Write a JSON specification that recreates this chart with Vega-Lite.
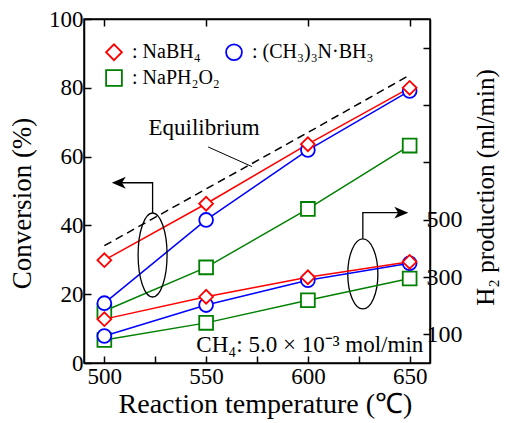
{
  "$schema": "https://vega.github.io/schema/vega-lite/v6.json",
  "autosize": "none",
  "width": 346,
  "height": 344,
  "padding": {"left": 84, "top": 19, "right": 76, "bottom": 60},
  "background": "white",
  "config": {
    "font": "Liberation Serif",
    "view": {"stroke": "black", "strokeWidth": 1.5},
    "axis": {"grid": false, "domainColor": "black", "domainWidth": 1.5, "tickColor": "black", "tickWidth": 1.5, "tickSize": -7, "labelColor": "black", "labelFont": "Liberation Serif", "labelFontSize": 23, "labelPadding": 6, "labelOverlap": false, "titleColor": "black", "titleFont": "Liberation Serif", "titleFontSize": 27, "titleFontWeight": "normal"},
    "legend": {"orient": "none", "legendX": 20, "legendY": 23, "direction": "horizontal", "columns": 2, "labelFont": "Liberation Serif", "labelFontSize": 20, "labelColor": "black", "symbolStrokeWidth": 1.8, "symbolSize": 250, "columnPadding": 2, "rowPadding": 2, "padding": 0, "labelOffset": 8}
  },
  "datasets": {
    "conv": [
      {"compound": "NaPH₂O₂", "t": 500, "v": 15.1}, {"compound": "NaPH₂O₂", "t": 550, "v": 27.8}, {"compound": "NaPH₂O₂", "t": 600, "v": 44.8}, {"compound": "NaPH₂O₂", "t": 650, "v": 63.2},
      {"compound": "(CH₃)₃N·BH₃", "t": 500, "v": 17.4}, {"compound": "(CH₃)₃N·BH₃", "t": 550, "v": 41.6}, {"compound": "(CH₃)₃N·BH₃", "t": 600, "v": 61.9}, {"compound": "(CH₃)₃N·BH₃", "t": 650, "v": 79.1},
      {"compound": "NaBH₄", "t": 500, "v": 29.9}, {"compound": "NaBH₄", "t": 550, "v": 46.3}, {"compound": "NaBH₄", "t": 600, "v": 63.6}, {"compound": "NaBH₄", "t": 650, "v": 80.0}
    ],
    "h2": [
      {"compound": "NaPH₂O₂", "t": 500, "h": 80}, {"compound": "NaPH₂O₂", "t": 550, "h": 140}, {"compound": "NaPH₂O₂", "t": 600, "h": 219}, {"compound": "NaPH₂O₂", "t": 650, "h": 295},
      {"compound": "(CH₃)₃N·BH₃", "t": 500, "h": 94}, {"compound": "(CH₃)₃N·BH₃", "t": 550, "h": 202}, {"compound": "(CH₃)₃N·BH₃", "t": 600, "h": 289}, {"compound": "(CH₃)₃N·BH₃", "t": 650, "h": 348},
      {"compound": "NaBH₄", "t": 500, "h": 153}, {"compound": "NaBH₄", "t": 550, "h": 231}, {"compound": "NaBH₄", "t": 600, "h": 299}, {"compound": "NaBH₄", "t": 650, "h": 353}
    ],
    "eq": [{"t": 500, "v": 34.1}, {"t": 550, "v": 50.6}, {"t": 600, "v": 67.0}, {"t": 650, "v": 83.7}],
    "arrows": [
      {"id": "L", "ord": 1, "t": 523.7, "v": 43.6}, {"id": "L", "ord": 2, "t": 523.7, "v": 52.4}, {"id": "L", "ord": 3, "t": 507.1, "v": 52.4},
      {"id": "R", "ord": 1, "t": 627.0, "v": 36.1}, {"id": "R", "ord": 2, "t": 627.0, "v": 43.7}, {"id": "R", "ord": 3, "t": 645.9, "v": 43.7}
    ],
    "heads": [{"id": "L", "t": 507.1, "v": 52.4}, {"id": "R", "t": 645.9, "v": 43.7}],
    "ellipses": [{"id": "L", "t": 523.7, "v": 31.4}, {"id": "R", "t": 627.0, "v": 25.9}],
    "pointer": [{"t": 551, "v": 62.8, "t2": 572.5, "v2": 57.1}],
    "labels": [{"id": "eq", "t": 549, "v": 68.3, "text": "Equilibrium"}, {"id": "ch4", "t": 656.7, "v": 3.3, "text": "CH₄: 5.0 × 10⁻³ mol/min"}]
  },
  "layer": [
    {
      "layer": [
        {
          "data": {"name": "eq"},
          "mark": {"type": "line", "stroke": "black", "strokeWidth": 1.5, "strokeDash": [8, 5]},
          "encoding": {
            "x": {"field": "t", "type": "quantitative", "scale": {"domain": [490, 660], "nice": false, "zero": false},
                  "axis": {"orient": "bottom", "title": "Reaction temperature (℃)", "values": [500, 525, 550, 575, 600, 625, 650], "labelExpr": "datum.value % 50 == 0 ? datum.label : ''", "titlePadding": 2, "titleFontSize": 28, "titleX": 181, "labelPadding": 9, "labelFont": "Liberation Serif", "titleFont": "Liberation Serif"}},
            "y": {"field": "v", "type": "quantitative", "scale": {"domain": [0, 100], "nice": false},
                  "axis": {"orient": "left", "title": "Conversion (%)", "values": [0, 10, 20, 30, 40, 50, 60, 70, 80, 90, 100], "labelExpr": "datum.value % 20 == 0 ? datum.label : ''", "titlePadding": 12, "titleY": 184, "labelPadding": 8, "labelFont": "Liberation Serif", "titleFont": "Liberation Serif"}}
          }
        },
        {
          "data": {"name": "conv"},
          "mark": {"type": "line", "strokeWidth": 1.5},
          "encoding": {
            "x": {"field": "t", "type": "quantitative"},
            "y": {"field": "v", "type": "quantitative"},
            "color": {"field": "compound", "type": "nominal", "scale": {"domain": ["NaBH₄", "(CH₃)₃N·BH₃", "NaPH₂O₂"], "range": ["#ff0000", "#0000ff", "#008000"]}, "legend": {"title": null, "labelExpr": "': ' + datum.label"}}
          }
        },
        {
          "data": {"name": "conv"},
          "mark": {"type": "point", "filled": false, "fill": "white", "strokeWidth": 1.8, "size": 190, "opacity": 1},
          "encoding": {
            "x": {"field": "t", "type": "quantitative"},
            "y": {"field": "v", "type": "quantitative"},
            "color": {"field": "compound", "type": "nominal", "legend": {"title": null, "labelExpr": "': ' + datum.label"}},
            "shape": {"field": "compound", "type": "nominal", "scale": {"domain": ["NaBH₄", "(CH₃)₃N·BH₃", "NaPH₂O₂"], "range": ["diamond", "circle", "square"]}, "legend": {"title": null, "labelExpr": "': ' + datum.label"}}
          }
        },
        {
          "data": {"name": "arrows"},
          "mark": {"type": "line", "stroke": "black", "strokeWidth": 1.3},
          "encoding": {
            "x": {"field": "t", "type": "quantitative"},
            "y": {"field": "v", "type": "quantitative"},
            "detail": {"field": "id"},
            "order": {"field": "ord", "type": "quantitative"}
          }
        },
        {
          "data": {"name": "heads"},
          "transform": [{"filter": "datum.id == 'L'"}],
          "mark": {"type": "point", "shape": "M-1,0L1,-0.85L0.45,0L1,0.85Z", "filled": true, "color": "black", "size": 196, "opacity": 1},
          "encoding": {"x": {"field": "t", "type": "quantitative"}, "y": {"field": "v", "type": "quantitative"}}
        },
        {
          "data": {"name": "heads"},
          "transform": [{"filter": "datum.id == 'R'"}],
          "mark": {"type": "point", "shape": "M1,0L-1,-0.85L-0.45,0L-1,0.85Z", "filled": true, "color": "black", "size": 196, "opacity": 1},
          "encoding": {"x": {"field": "t", "type": "quantitative"}, "y": {"field": "v", "type": "quantitative"}}
        },
        {
          "data": {"name": "ellipses"},
          "transform": [{"filter": "datum.id == 'L'"}],
          "mark": {"type": "point", "shape": "M0,-1A0.345,1,0,1,1,0,1A0.345,1,0,1,1,0,-1Z", "filled": false, "stroke": "black", "strokeWidth": 1.3, "size": 7056, "opacity": 1},
          "encoding": {"x": {"field": "t", "type": "quantitative"}, "y": {"field": "v", "type": "quantitative"}}
        },
        {
          "data": {"name": "ellipses"},
          "transform": [{"filter": "datum.id == 'R'"}],
          "mark": {"type": "point", "shape": "M0,-1A0.43,1,0,1,1,0,1A0.43,1,0,1,1,0,-1Z", "filled": false, "stroke": "black", "strokeWidth": 1.3, "size": 4900, "opacity": 1},
          "encoding": {"x": {"field": "t", "type": "quantitative"}, "y": {"field": "v", "type": "quantitative"}}
        },
        {
          "data": {"name": "pointer"},
          "mark": {"type": "rule", "stroke": "black", "strokeWidth": 1},
          "encoding": {"x": {"field": "t", "type": "quantitative"}, "y": {"field": "v", "type": "quantitative"}, "x2": {"field": "t2"}, "y2": {"field": "v2"}}
        },
        {
          "data": {"name": "labels"},
          "transform": [{"filter": "datum.id == 'eq'"}],
          "mark": {"type": "text", "font": "Liberation Serif", "fontSize": 23, "align": "center", "baseline": "middle", "color": "black"},
          "encoding": {"x": {"field": "t", "type": "quantitative"}, "y": {"field": "v", "type": "quantitative"}, "text": {"field": "text"}}
        },
        {
          "data": {"name": "labels"},
          "transform": [{"filter": "datum.id == 'ch4'"}],
          "mark": {"type": "text", "font": "Liberation Serif", "fontSize": 23, "align": "right", "baseline": "alphabetic", "color": "black"},
          "encoding": {"x": {"field": "t", "type": "quantitative"}, "y": {"field": "v", "type": "quantitative"}, "text": {"field": "text"}}
        }
      ]
    },
    {
      "layer": [
        {
          "data": {"name": "h2"},
          "mark": {"type": "line", "strokeWidth": 1.5},
          "encoding": {
            "x": {"field": "t", "type": "quantitative", "axis": {"orient": "top", "labels": false, "title": null, "values": [500, 550, 600, 650]}},
            "y": {"field": "h", "type": "quantitative", "scale": {"domain": [0, 1200], "nice": false},
                  "axis": {"orient": "right", "title": "H₂ production (ml/min)", "titleAngle": 270, "titleBaseline": "top", "titleY": 168, "values": [100, 200, 300, 400, 500, 600, 700, 800, 900, 1000, 1100], "labelExpr": "(datum.value == 100 || datum.value == 300 || datum.value == 500) ? datum.label : ''", "labelPadding": 3, "labelFontSize": 24, "titleFontSize": 25, "titlePadding": 11, "labelFont": "Liberation Serif", "titleFont": "Liberation Serif"}},
            "color": {"field": "compound", "type": "nominal"}
          }
        },
        {
          "data": {"name": "h2"},
          "mark": {"type": "point", "filled": false, "fill": "white", "strokeWidth": 1.8, "size": 190, "opacity": 1},
          "encoding": {
            "x": {"field": "t", "type": "quantitative"},
            "y": {"field": "h", "type": "quantitative"},
            "color": {"field": "compound", "type": "nominal"},
            "shape": {"field": "compound", "type": "nominal"}
          }
        }
      ]
    }
  ],
  "resolve": {"scale": {"y": "independent"}, "axis": {"x": "independent"}}
}
